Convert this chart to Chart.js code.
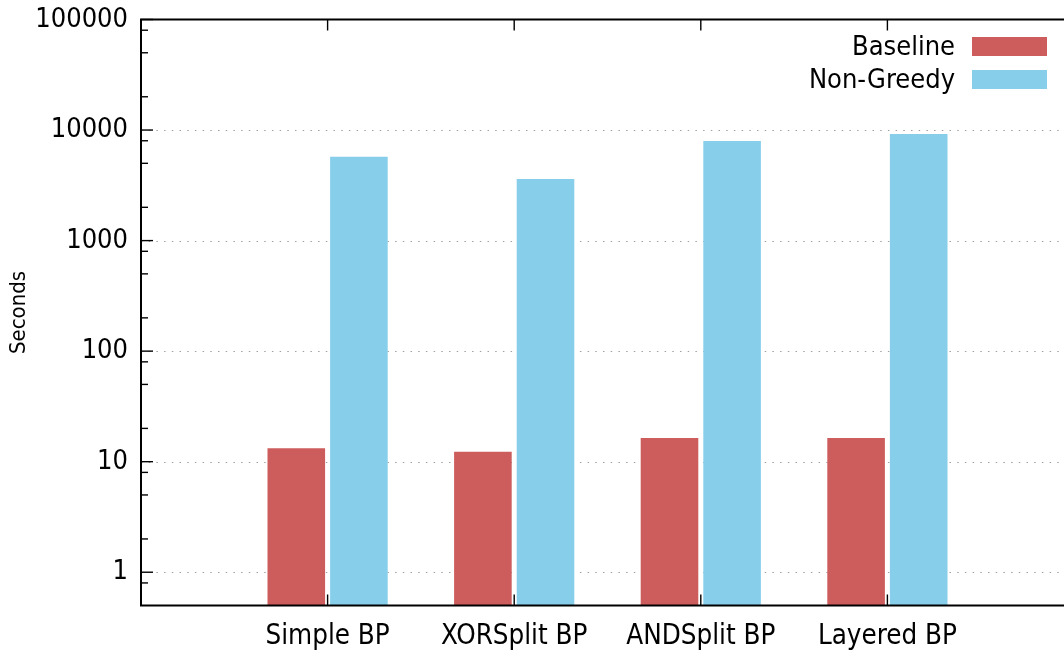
<!DOCTYPE html>
<html>
<head>
<meta charset="utf-8">
<script src="https://cdn.jsdelivr.net/npm/chart.js@4/dist/chart.umd.min.js"></script>
<style>
  html, body { margin: 0; padding: 0; background: #fff; overflow: hidden; }
  canvas { display: block; }
</style>
</head>
<body>
<canvas id="c" width="1074" height="650"></canvas>
<script>
// Run time per benchmark model (seconds, log scale)
const categories = ['Simple BP', 'XORSplit BP', 'ANDSplit BP', 'Layered BP'];
const baseline   = [13.2, 12.3, 16.4, 16.4];
const nonGreedy  = [5730, 3600, 7950, 9200];
const seriesNames = ['Baseline', 'Non-Greedy'];
const seriesColors = ['#CD5C5C', '#87CEEB'];
const majorTicks = [1, 10, 100, 1000, 10000, 100000];
const minorSteps = [2, 5, 8];

const FONT = "'DejaVu Sans Condensed', 'DejaVu Sans', sans-serif";

// empty slot on each side of the four groups
const labels = [''].concat(categories, ['']);
const pad = arr => [null].concat(arr, [null]);

const axesPlugin = {
  id: 'gnuplotAxes',
  beforeDatasetsDraw(chart) {
    const {ctx, chartArea: a, scales: {y}} = chart;
    ctx.save();
    ctx.strokeStyle = '#a0a0a0';
    ctx.lineWidth = 1;
    ctx.setLineDash([1.5, 6.2]);
    majorTicks.forEach(v => {
      if (v >= y.max) return;
      const py = Math.round(y.getPixelForValue(v)) + 0.5;
      ctx.beginPath();
      ctx.moveTo(a.left, py);
      ctx.lineTo(a.right, py);
      ctx.stroke();
    });
    ctx.restore();
  },
  afterDatasetsDraw(chart) {
    const {ctx, chartArea: a, scales: {x, y}} = chart;
    ctx.save();
    ctx.strokeStyle = '#000';
    ctx.lineWidth = 1.4;
    // y major ticks
    majorTicks.forEach(v => {
      const py = y.getPixelForValue(v);
      ctx.beginPath(); ctx.moveTo(a.left, py); ctx.lineTo(a.left + 12, py); ctx.stroke();
    });
    // y minor ticks
    for (let d = 0.1; d < y.max; d *= 10) {
      minorSteps.forEach(m => {
        const v = d * m;
        if (v <= y.min || v >= y.max) return;
        const py = y.getPixelForValue(v);
        ctx.beginPath(); ctx.moveTo(a.left, py); ctx.lineTo(a.left + 7, py); ctx.stroke();
      });
    }
    // x ticks at the group centres, bottom and top
    categories.forEach((c, i) => {
      const px = x.getPixelForValue(i + 1);
      ctx.beginPath(); ctx.moveTo(px, a.bottom); ctx.lineTo(px, a.bottom - 11); ctx.stroke();
      ctx.beginPath(); ctx.moveTo(px, a.top); ctx.lineTo(px, a.top + 11); ctx.stroke();
    });
    // frame
    ctx.lineWidth = 2;
    ctx.beginPath();
    ctx.moveTo(a.right, a.top);
    ctx.lineTo(a.left, a.top);
    ctx.lineTo(a.left, a.bottom);
    ctx.lineTo(a.right, a.bottom);
    ctx.stroke();

    // key, top right
    ctx.font = '27px ' + FONT;
    ctx.textAlign = 'right';
    ctx.textBaseline = 'middle';
    chart.data.datasets.forEach((ds, i) => {
      const cy = 46.5 + i * 33;
      ctx.fillStyle = '#000';
      ctx.fillText(ds.label, 955, cy + 1);
      ctx.fillStyle = ds.backgroundColor;
      ctx.fillRect(972, cy - 9.5, 75, 19);
    });
    ctx.restore();
  }
};

new Chart(document.getElementById('c'), {
  type: 'bar',
  data: {
    labels: labels,
    datasets: [
      { label: seriesNames[0], data: pad(baseline), backgroundColor: seriesColors[0], borderWidth: 0 },
      { label: seriesNames[1], data: pad(nonGreedy), backgroundColor: seriesColors[1], borderWidth: 0 }
    ]
  },
  options: {
    responsive: false,
    animation: false,
    categoryPercentage: 0.671,
    barPercentage: 0.92,
    layout: { padding: { top: 19.5, right: 0, bottom: 0, left: 0 } },
    plugins: { legend: { display: false }, tooltip: { enabled: false } },
    scales: {
      x: {
        type: 'category',
        offset: false,
        grid: { display: false },
        border: { display: false },
        ticks: {
          autoSkip: false, maxRotation: 0, minRotation: 0,
          color: '#000', font: { family: FONT, size: 27.5 }, padding: 7
        },
        afterFit(scale) {
          scale.height = 44.5;
          scale.paddingLeft = 0;
          scale.paddingRight = 0;
        }
      },
      y: {
        type: 'logarithmic',
        min: 0.5,
        max: 100000,
        grid: { display: false, drawTicks: false },
        border: { display: false },
        afterBuildTicks(scale) { scale.ticks = majorTicks.map(v => ({ value: v })); },
        ticks: {
          color: '#000', font: { family: FONT, size: 27 }, padding: 13,
          callback: v => String(v)
        },
        title: {
          display: true, text: 'Seconds', color: '#000',
          font: { family: FONT, size: 22 }, padding: { top: 6, bottom: 0 }
        },
        afterFit(scale) {
          scale.width = 141;
          scale.paddingTop = 0;
          scale.paddingBottom = 0;
        }
      }
    }
  },
  plugins: [axesPlugin]
});
</script>
</body>
</html>
